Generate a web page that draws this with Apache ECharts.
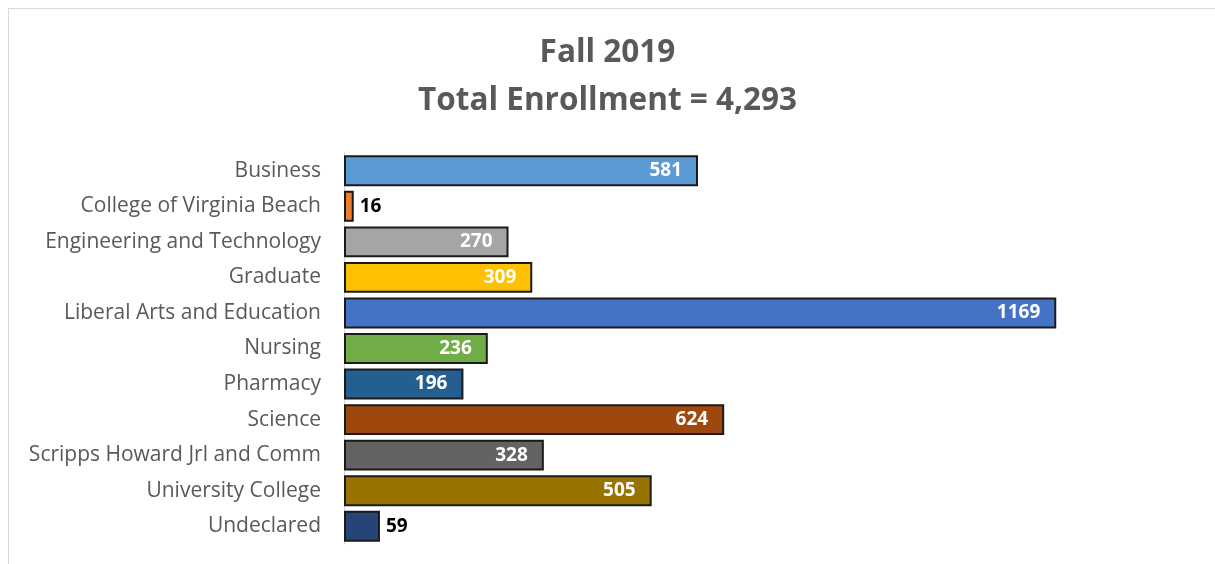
<!DOCTYPE html>
<html><head><meta charset="utf-8">
<script src="https://cdn.jsdelivr.net/npm/echarts@6/dist/echarts.min.js"></script>
<style>
html,body{margin:0;padding:0;background:#fff;}
#wrap{position:relative;width:1215px;height:564px;}
#frame{position:absolute;left:8px;top:8px;right:0;bottom:0;border-top:1px solid #d9d9d9;border-left:1px solid #d9d9d9;}
#chart{position:absolute;left:0;top:0;width:1215px;height:564px;}
</style></head>
<body>
<div id="wrap"><div id="frame"></div><div id="chart"></div></div>
<script>
const categories = ["Business","College of Virginia Beach","Engineering and Technology","Graduate","Liberal Arts and Education","Nursing","Pharmacy","Science","Scripps Howard Jrl and Comm","University College","Undeclared"];
const values = [581,16,270,309,1169,236,196,624,328,505,59];
const colors = ["#5B9BD5","#ED7D31","#A5A5A5","#FFC000","#4472C4","#70AD47","#255E91","#9E480E","#636363","#997300","#264478"];
const outsideLabel = [false,true,false,false,false,false,false,false,false,false,true];
const titleLines = ["Fall 2019","Total Enrollment = 4,293"];

const FONT = "Open Sans";
const chart = echarts.init(document.getElementById('chart'), null, {renderer:'canvas'});
chart.setOption({
  animation:false,
  title:{
    text: titleLines.join('\n'),
    left:'center', top:24,
    textStyle:{fontFamily:FONT, fontSize:31.5, fontWeight:'bold', color:'#595959', lineHeight:48}
  },
  grid:{left:344, right:18, top:153, bottom:20, containLabel:false},
  xAxis:{type:'value', min:0, max:1400, show:false},
  yAxis:{type:'category', data:categories, inverse:true,
    axisLine:{show:true, lineStyle:{color:'#d9d9d9'}},
    axisTick:{show:false},
    axisLabel:{fontFamily:FONT, fontSize:21, fontWeight:500, color:'#595959', margin:23}
  },
  series:[{
    type:'bar',
    barCategoryGap:'13%',
    data: values.map((v,i)=>({
      value:v,
      itemStyle:{color:colors[i], borderColor:'#1a1a1a', borderWidth:2},
      label: outsideLabel[i]
        ? {show:true, position:'right', distance:6, color:'#000000'}
        : {show:true, position:'insideRight', distance:16, color:'#ffffff'}
    })),
    label:{fontFamily:FONT, fontSize:19, fontWeight:'bold'}
  }]
});
</script>
</body></html>
